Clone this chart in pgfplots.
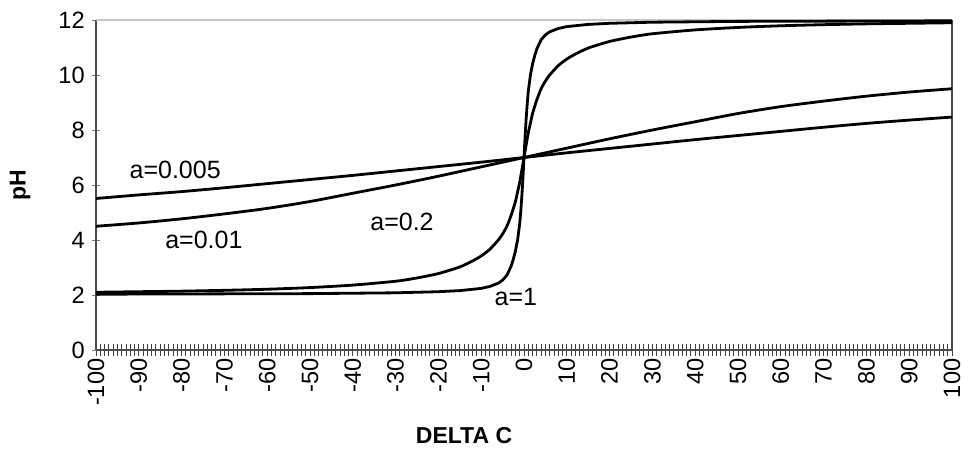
\documentclass[border=0pt]{standalone}
\usepackage{fontspec}
\setmainfont{Liberation Sans}
\usepackage{pgfplots}
\pgfplotsset{compat=1.18}
\begin{document}
\begin{tikzpicture}
\begin{axis}[at={(0,0)},anchor=south west,
  scale only axis, width=428pt, height=165pt,
  xmin=-100, xmax=100, ymin=0, ymax=12,
  axis lines*=left,
  axis line style={black!70, line width=0.8pt},
  xtick={-100,-90,...,100}, minor x tick num=9,
  ytick={0,2,...,12},
  tick align=center,
  x tick style={black!75, line width=0.45pt},
  y tick style={black!50, line width=0.45pt},
  xtick style={/pgfplots/major tick length=6pt,/pgfplots/minor tick length=6pt},
  ytick style={/pgfplots/major tick length=4pt},
  /pgf/number format/assume math mode=true,
  x tick label style={rotate=90, anchor=east, inner sep=2pt, font=\fontsize{11.8}{12}\selectfont},
  y tick label style={font=\fontsize{11.8}{12}\selectfont},
  xlabel={\textbf{DELTA C}}, ylabel={\textbf{pH}},
  every axis x label/.style={at={(axis description cs:0.43,0)}, anchor=center, yshift=-43pt, font=\fontsize{11.5}{12}\selectfont},
  every axis y label/.style={at={(axis description cs:0,0.5)}, rotate=90, anchor=center, yshift=38pt, font=\fontsize{11.5}{12}\selectfont},
  clip=false,
]
\draw[gray!45, line width=0.6pt] (rel axis cs:0,1) -- (rel axis cs:1,1);
\draw[black!70, line width=0.8pt] (rel axis cs:1,0) -- (rel axis cs:1,1);
% a = 1
\addplot[black, line width=1.4pt, line join=round] coordinates {
(-100,2.03) (-75,2.04) (-50,2.05) (-30,2.08) (-20,2.12) (-15,2.16) (-10,2.24)
(-8,2.31) (-6,2.43) (-5,2.54) (-4,2.72) (-3,3.05) (-2.5,3.30) (-2,3.60)
(-1.5,4.00) (-1,4.60) (-0.75,5.05) (-0.5,5.60) (-0.25,6.25) (0,7)
(0.25,7.75) (0.5,8.40) (0.75,8.95) (1,9.40) (1.5,10.00) (2,10.40) (2.5,10.70)
(3,10.95) (4,11.28) (5,11.46) (6,11.57) (8,11.69) (10,11.76) (15,11.84)
(20,11.88) (30,11.92) (50,11.95) (75,11.96) (100,11.97)};
% a = 0.2
\addplot[black, line width=1.4pt, smooth, tension=0.4] coordinates {
(-100,2.10) (-90,2.12) (-80,2.14) (-70,2.17) (-60,2.21) (-50,2.27) (-40,2.36)
(-30,2.50) (-25,2.62) (-20,2.78) (-15,3.02) (-12,3.24) (-10,3.42) (-8,3.66)
(-6,4.00) (-5,4.22) (-4,4.50) (-3,4.90) (-2,5.40) (-1.5,5.75) (-1,6.10)
(-0.5,6.55) (0,7) (0.5,7.45) (1,7.90) (1.5,8.25) (2,8.60) (3,9.10) (4,9.50)
(5,9.78) (6,10.00) (8,10.34) (10,10.58) (12,10.76) (15,10.98) (20,11.22)
(25,11.38) (30,11.50) (40,11.64) (50,11.73) (60,11.79) (70,11.83) (80,11.86)
(90,11.88) (100,11.90)};
% a = 0.01
\addplot[black, line width=1.4pt, smooth] coordinates {
(-100,4.50) (-90,4.62) (-80,4.77) (-70,4.95) (-60,5.15) (-50,5.40) (-40,5.70)
(-30,6.00) (-20,6.32) (-10,6.66) (0,7) (10,7.34) (20,7.68) (30,8.00) (40,8.30)
(50,8.60) (60,8.85) (70,9.05) (80,9.23) (90,9.38) (100,9.50)};
% a = 0.005
\addplot[black, line width=1.4pt, smooth] coordinates {
(-100,5.51) (-90,5.64) (-80,5.76) (-70,5.90) (-60,6.05) (-50,6.20) (-40,6.35)
(-30,6.51) (-20,6.67) (-10,6.83) (0,7) (10,7.17) (20,7.33) (30,7.49) (40,7.65)
(50,7.80) (60,7.95) (70,8.10) (80,8.24) (90,8.36) (100,8.47)};
\node[font=\fontsize{12.5}{14}\selectfont] at (axis cs:-81.5,6.55) {a=0.005};
\node[font=\fontsize{12.5}{14}\selectfont] at (axis cs:-74.8,4.0) {a=0.01};
\node[font=\fontsize{12.5}{14}\selectfont] at (axis cs:-28.5,4.65) {a=0.2};
\node[font=\fontsize{12.5}{14}\selectfont] at (axis cs:-1.9,1.93) {a=1};
\end{axis}
\pgfresetboundingbox
\useasboundingbox (-48pt,-51pt) rectangle (437pt,175pt);
\end{tikzpicture}
\end{document}
